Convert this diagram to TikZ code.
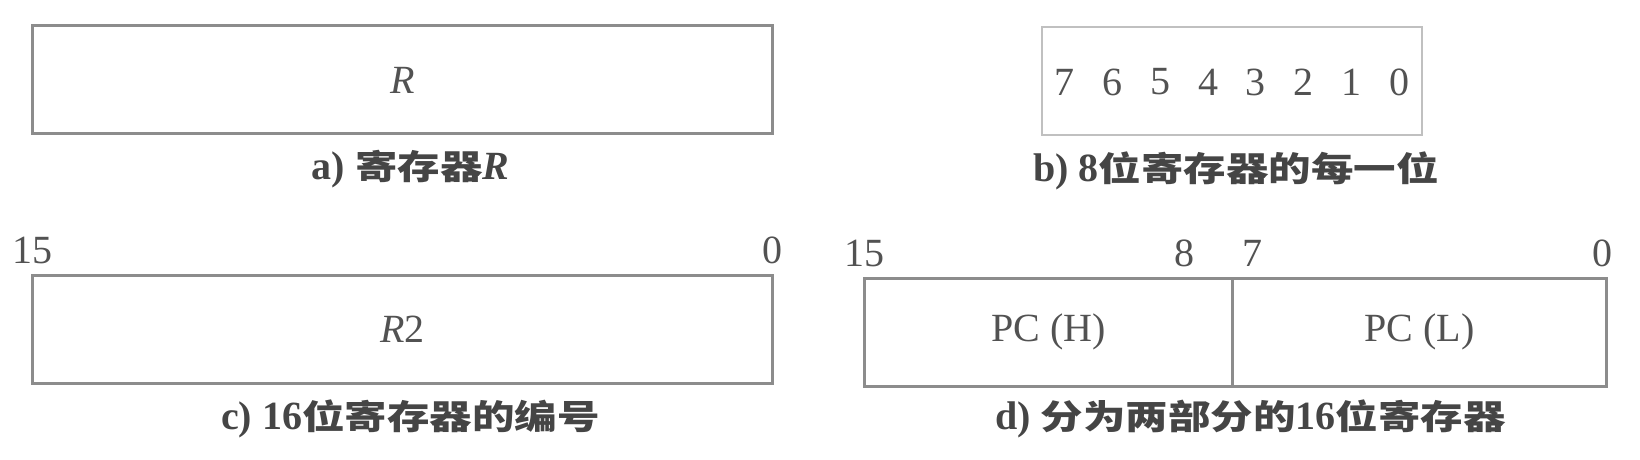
\documentclass[tikz,border=0pt]{standalone}
\usepackage{fontspec}
\setmainfont{Liberation Serif}
\newfontfamily\cjk{Noto Sans CJK SC}[Scale=0.85, FakeStretch=1.25]
\usetikzlibrary{positioning}
\definecolor{linegray}{gray}{0.55}
\definecolor{textgray}{gray}{0.32}
\tikzset{
    regbox/.style = {
        rectangle,
        draw=linegray,
        line width=1.5pt,
        minimum height=54pt,
        inner sep=0pt,
        outer sep=0pt,
        text=textgray,
        font=\fontsize{20}{24}\selectfont
    },
    bitbox/.style = {
        regbox,
        draw=linegray!55,
        line width=1pt
    },
    bitnum/.style = {
        text=textgray,
        font=\fontsize{20}{24}\selectfont,
        inner sep=1pt
    },
    regcaption/.style = {
        text=textgray!85!black,
        font=\fontsize{20}{24}\selectfont\bfseries,
        inner sep=1pt
    }
}

\begin{document}
\begin{tikzpicture}[x=0.5pt, y=-0.5pt]
\useasboundingbox (0,0) rectangle (1640,460);

% a) register R
\node (regR) [regbox, minimum width=370pt] at (402.5,80) {\textit{R}};
\node (capa) [regcaption, below=7pt of regR, xshift=4pt] {a) {\cjk 寄存器}\textit{R}};

% b) bits of an 8-bit register
\node (regbits) [bitbox, minimum width=190pt] at (1232,81) {};
\foreach \b [count=\i] in {7,6,5,4,3,2,1,0}
    \node (bit\b) [bitnum] at ({1041+(\i-0.5)*47.75},82) {\b};
\node (capb) [regcaption, below=7pt of regbits, xshift=2pt] {b) 8{\cjk 位寄存器的每一位}};

% c) 16-bit register
\node (regR2) [regbox, minimum width=370pt] at (402.5,329) {\textit{R}2};
\node (c15) [bitnum, above=4.5pt of regR2.north west] {15};
\node (c0) [bitnum, above=4.5pt of regR2.north east] {0};
\node (capc) [regcaption, below=7pt of regR2, xshift=4pt] {c) 16{\cjk 位寄存器的编号}};

% d) register split in two halves
\node (pch) [regbox, minimum width=184pt] at (1048.5,332) {PC (H)};
\node (pcl) [regbox, minimum width=187pt, right=0pt of pch] {PC (L)};
\node (d15) [bitnum, above=4.5pt of pch.north west] {15};
\node (d8) [bitnum, above=4.5pt of pch.north east, xshift=-24pt] {8};
\node (d7) [bitnum, above=4.5pt of pch.north east, xshift=10pt] {7};
\node (d0) [bitnum, above=4.5pt of pcl.north east, xshift=-2pt] {0};
\node (capd) [regcaption, below=5.5pt of pch.south east, xshift=9pt] {d) {\cjk 分为两部分的}16{\cjk 位寄存器}};

\end{tikzpicture}
\end{document}
